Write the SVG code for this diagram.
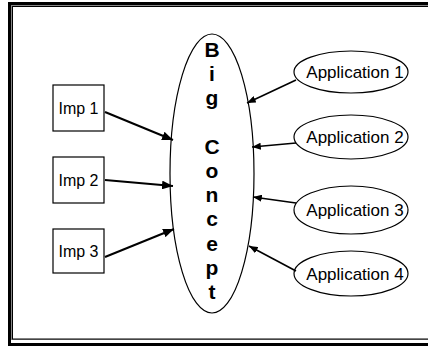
<svg xmlns="http://www.w3.org/2000/svg" width="428" height="347" viewBox="0 0 428 347">
  <style>
    .frame-outer { fill: none; stroke: #000; stroke-width: 3; }
    .frame-mid { fill: none; stroke: #888; stroke-width: 1; }
    .frame-inner { fill: none; stroke: #000; stroke-width: 1; }
    .box { fill: #fff; stroke: #000; stroke-width: 1.2; }
    .imp { font-family: "Liberation Sans", Arial, sans-serif; font-size: 16px; fill: #000; text-anchor: middle; }
    .app { font-family: "Liberation Sans", Arial, sans-serif; font-size: 17px; fill: #000; text-anchor: middle; }
    .big { font-family: "Liberation Sans", Arial, sans-serif; font-size: 21px; font-weight: bold; fill: #000; text-anchor: middle; }
    .conn { stroke: #000; stroke-width: 2; fill: none; marker-end: url(#head); }
    .conn.thin { stroke-width: 1.6; }
  </style>
  <defs>
    <marker id="head" viewBox="0 0 10 8" refX="10" refY="4" markerWidth="5.5" markerHeight="4.4" orient="auto" markerUnits="strokeWidth">
      <path d="M0,0 L10,4 L0,8 z" fill="#000"/>
    </marker>
  </defs>

  <rect width="428" height="347" fill="#fff"/>

  <!-- page frame: heavy outer rule, thin inner rule -->
  <g id="frame">
    <rect class="frame-outer" x="9.5" y="3.5" width="430" height="341"/>
    <rect class="frame-mid" x="11.5" y="5.5" width="430" height="334"/>
    <rect class="frame-inner" x="12.5" y="6.5" width="430" height="332.5"/>
  </g>

  <!-- central concept, lettered top to bottom -->
  <g id="big-concept">
    <ellipse class="box" cx="212" cy="173.5" rx="42" ry="139.5"/>
    <text class="big" x="212" y="57">B</text>
    <text class="big" x="212" y="81.2">i</text>
    <text class="big" x="212" y="105.4">g</text>
    <text class="big" x="212" y="153.8">C</text>
    <text class="big" x="212" y="178">o</text>
    <text class="big" x="212" y="202.2">n</text>
    <text class="big" x="212" y="226.4">c</text>
    <text class="big" x="212" y="250.6">e</text>
    <text class="big" x="212" y="274.8">p</text>
    <text class="big" x="212" y="299">t</text>
  </g>

  <g id="imp-1">
    <rect class="box" x="53" y="85" width="51" height="46"/>
    <text class="imp" x="78.5" y="114">Imp 1</text>
  </g>
  <g id="imp-2">
    <rect class="box" x="53" y="157" width="51" height="46"/>
    <text class="imp" x="78.5" y="186">Imp 2</text>
  </g>
  <g id="imp-3">
    <rect class="box" x="53" y="229" width="51" height="44"/>
    <text class="imp" x="78.5" y="257">Imp 3</text>
  </g>

  <g id="application-1">
    <ellipse class="box" cx="351" cy="72" rx="57" ry="21"/>
    <text class="app" x="355" y="78">Application 1</text>
  </g>
  <g id="application-2">
    <ellipse class="box" cx="351" cy="137" rx="57" ry="22"/>
    <text class="app" x="355" y="143">Application 2</text>
  </g>
  <g id="application-3">
    <ellipse class="box" cx="351" cy="210" rx="57" ry="24"/>
    <text class="app" x="355" y="216">Application 3</text>
  </g>
  <g id="application-4">
    <ellipse class="box" cx="351" cy="273.5" rx="57" ry="22.5"/>
    <text class="app" x="355" y="280">Application 4</text>
  </g>

  <g id="connectors">
    <line class="conn" x1="105" y1="112" x2="173" y2="140"/>
    <line class="conn" x1="105" y1="180" x2="173" y2="186"/>
    <line class="conn" x1="105" y1="257" x2="174" y2="229"/>
    <line class="conn thin" x1="296" y1="80" x2="247" y2="103"/>
    <line class="conn thin" x1="296" y1="143" x2="252" y2="147"/>
    <line class="conn thin" x1="296" y1="203" x2="253" y2="197"/>
    <line class="conn thin" x1="296" y1="271" x2="249" y2="246"/>
  </g>
</svg>
